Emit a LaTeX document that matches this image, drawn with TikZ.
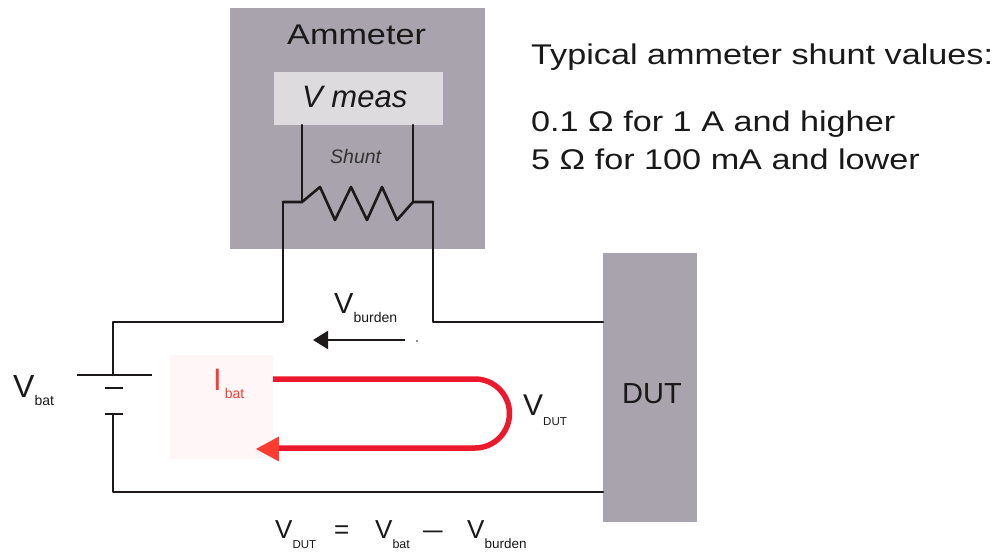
\documentclass[tikz,border=0pt]{standalone}
\usepackage{fontspec}
\setmainfont{Liberation Sans}
\newfontfamily\widefont{Liberation Sans}[FakeStretch=1.2]
\usetikzlibrary{arrows.meta}
\definecolor{boxgray}{RGB}{168,163,172}
\definecolor{measgray}{RGB}{221,219,222}
\definecolor{pinkbg}{RGB}{255,247,247}
\definecolor{loopred}{RGB}{236,24,44}
\definecolor{headred}{RGB}{255,60,48}
\definecolor{txtred}{RGB}{250,60,50}
\definecolor{wire}{RGB}{30,25,25}
\newcommand{\fs}[1]{\fontsize{#1}{#1}\selectfont}
\newcommand{\vsub}[5]{{\fs{#1}#2\raisebox{-#5pt}{\fs{#3}#4}}}
\tikzset{
  wirepath/.style={draw=wire, line width=2.6pt, line cap=round, line join=round},
  plate/.style={draw=wire, line width=2.8pt},
  box/.style={fill=#1, draw=none, inner sep=0pt, anchor=north west},
  lbl/.style={inner sep=0pt, anchor=base west, text=black!90},
}
\begin{document}
\begin{tikzpicture}[x=1pt, y=-1pt]
\useasboundingbox (0,0) rectangle (995,556);
% boxes
\node[box=boxgray, minimum width=255pt, minimum height=241pt] (amm) at (230,8) {};
\node[box=measgray, minimum width=169pt, minimum height=53pt] (meas) at (274,72) {};
\node[box=boxgray, minimum width=94pt, minimum height=269pt] (dut) at (603,253) {};
\node[box=pinkbg, minimum width=103pt, minimum height=104pt] (ibg) at (170,355) {};
% texts
\node[lbl] (ammt) at (287,45) {\widefont\fs{28.5}Ammeter};
\node[lbl] (meast) at (302,108) {\fs{31}\itshape V meas};
\node[lbl, text=black!80] (shunt) at (330,164) {\fs{19.5}\itshape Shunt};
\node[lbl] (typ) at (531,65) {\widefont\fs{28.5}Typical ammeter shunt values:};
\node[lbl] (v1) at (531,132) {\widefont\fs{28.5}0.1 Ω for 1 A and higher};
\node[lbl] (v2) at (531,170) {\widefont\fs{28.5}5 Ω for 100 mA and lower};
\node[lbl] (dutt) at (622,403) {\fs{29}DUT};
\node[lbl] (vbat) at (13,397) {\vsub{32}{V}{14}{bat}{8}};
\node[lbl, text=txtred] (ibat) at (213,390) {\vsub{31}{I}{14}{\hspace{3pt}bat}{8}};
\node[lbl] (vburden) at (334,313) {\vsub{29}{V}{14}{burden}{9}};
\node[lbl] (vdut) at (523,415) {\vsub{30}{V}{11.5}{DUT}{10}};
% equation
\node[lbl] (eq1) at (275,538) {\vsub{26}{V}{11.5}{DUT}{10}};
\node[lbl] (eq2) at (334,538) {\fs{26}=};
\node[lbl] (eq3) at (375,538) {\vsub{26}{V}{12.5}{bat}{10}};
\node[lbl] (eq4) at (423,538) {\fs{26}\scalebox{1.35}[1]{–}};
\node[lbl] (eq5) at (467,538) {\vsub{26}{V}{13.5}{burden}{10}};
% wire coordinates
\coordinate (ml) at (302,125);
\coordinate (mr) at (413,125);
\coordinate (rl) at (302,202);
\coordinate (rr) at (413,202);
\coordinate (ol) at (283,202);
\coordinate (or) at (433,202);
\coordinate (tl) at (283,322);
\coordinate (tr) at (433,322);
\coordinate (dtop) at (603,322);
\coordinate (bl) at (113,322);
\coordinate (bplus) at (113,375);
\coordinate (bminus) at (113,414);
\coordinate (bbot) at (113,492);
\coordinate (dbot) at (603,492);
% leads and shunt
\draw[wirepath] (ml) -- (rl);
\draw[wirepath] (mr) -- (rr);
\draw[wirepath] (ol) -- (rl) -- (320,187) -- (335,220) -- (351,187) -- (367,220) -- (382,187) -- (397,220) -- (rr) -- (or);
\draw[wirepath] (ol) -- (tl) -- (bl) -- (bplus);
\draw[wirepath] (or) -- (tr) -- (dtop);
\draw[wirepath] (bminus) -- (bbot) -- (dbot);
% battery plates
\draw[plate] (77,375) -- (152,375);
\draw[plate] (105,388) -- (123,388);
\draw[plate] (105,414) -- (123,414);
% burden arrow
\coordinate (barS) at (405,340);
\coordinate (barE) at (313,340);
\draw[draw=wire, line width=2.2pt, -{Triangle[length=15pt,width=18pt]}] (barS) -- (barE);
\fill[wire] (417,341) circle (0.9);
% current loop
\coordinate (ls) at (273,379);
\coordinate (lt) at (475,379);
\coordinate (le) at (276,448);
\draw[loopred, line width=5.5pt] (ls) -- (lt) arc[start angle=-90, end angle=90, radius=34.5] -- (le);
\fill[headred] (256,449) -- (279,436.5) -- (279,461.5) -- cycle;
\end{tikzpicture}
\end{document}
